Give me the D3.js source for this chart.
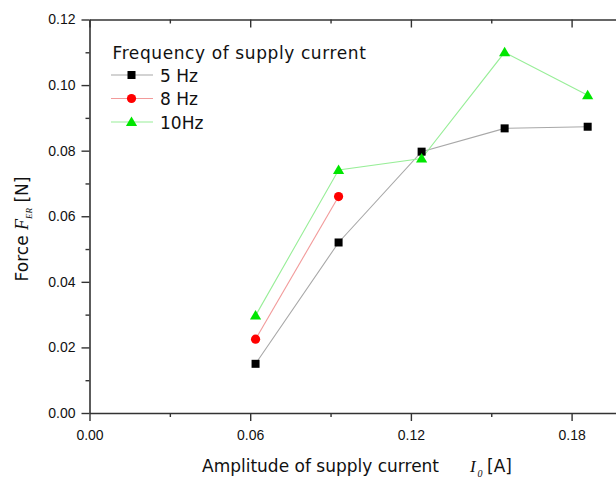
<!DOCTYPE html>
<html>
<head>
<meta charset="utf-8">
<script src="https://cdn.jsdelivr.net/npm/d3@7"></script>
<style>
  html, body { margin: 0; padding: 0; background: #fff; }
  svg { display: block; }
  .tick text { font-family: "Liberation Sans", Arial, sans-serif; font-size: 14px; fill: #111; }
  .lbl { font-family: "DejaVu Sans", "Liberation Sans", sans-serif; fill: #111; }
  .it { font-family: "Liberation Serif", "DejaVu Serif", serif; font-style: italic; }
</style>
</head>
<body>
<svg id="chart" width="616" height="482"></svg>
<script>
// Supply current amplitude I0 [A]
const current = [0.062, 0.093, 0.124, 0.155, 0.186];
// Electrorheological force F_ER [N] per supply frequency
const force5Hz  = [0.015, 0.052, 0.0797, 0.0868, 0.0873];
const force8Hz  = [0.0225, 0.066];
const force10Hz = [0.0297, 0.0741, 0.0776, 0.110, 0.0969];

const xMajor = [0.00, 0.06, 0.12, 0.18];
const xMinor = [0.03, 0.09, 0.15, 0.21];
const yMajor = [0.00, 0.02, 0.04, 0.06, 0.08, 0.10, 0.12];
const yMinor = [0.01, 0.03, 0.05, 0.07, 0.09, 0.11];

const seriesNames = ["5 Hz", "8 Hz", "10Hz"];
const legendTitle = "Frequency of supply current";

const series = [
  { name: seriesNames[0], values: force5Hz,  line: "#a8a8a8", fill: "#000000", shape: "square" },
  { name: seriesNames[1], values: force8Hz,  line: "#f29a9a", fill: "#ff0000", shape: "circle" },
  { name: seriesNames[2], values: force10Hz, line: "#98ee98", fill: "#00e600", shape: "triangle" }
];

const svg = d3.select("#chart");
const plotLeft = 89.5, plotTop = 19.5, plotBottom = 413;
const px006 = 160.7;

const x = d3.scaleLinear().domain([0, 0.24]).range([plotLeft, plotLeft + px006 * 4]);
const y = d3.scaleLinear().domain([0, 0.12]).range([plotBottom, plotTop]);

const axisColor = "#333";

// bottom axis: major ticks with labels, minor ticks without
const gx = svg.append("g").attr("transform", `translate(0,${plotBottom})`);
gx.call(d3.axisBottom(x).tickValues(xMajor).tickFormat(d3.format(".2f")).tickSize(8).tickSizeOuter(0).tickPadding(9));
gx.append("g").call(d3.axisBottom(x).tickValues(xMinor).tickFormat("").tickSize(4).tickSizeOuter(0))
  .select(".domain").remove();

// top axis: inward ticks
const gt = svg.append("g").attr("transform", `translate(0,${plotTop})`);
gt.call(d3.axisBottom(x).tickValues(xMajor).tickFormat("").tickSize(8).tickSizeOuter(0));
gt.append("g").call(d3.axisBottom(x).tickValues(xMinor).tickFormat("").tickSize(4).tickSizeOuter(0))
  .select(".domain").remove();

// left axis
const gy = svg.append("g").attr("transform", `translate(${plotLeft},0)`);
gy.call(d3.axisLeft(y).tickValues(yMajor).tickFormat(d3.format(".2f")).tickSize(8).tickSizeOuter(0).tickPadding(6));
gy.append("g").call(d3.axisLeft(y).tickValues(yMinor).tickFormat("").tickSize(4).tickSizeOuter(0))
  .select(".domain").remove();

svg.selectAll(".domain").attr("stroke", axisColor).attr("stroke-width", 1.6);
svg.selectAll(".tick line").attr("stroke", axisColor).attr("stroke-width", 1.4);

// data lines
const line = d3.line().x((d, i) => x(current[i])).y(d => y(d));
series.forEach(s => {
  svg.append("path").datum(s.values)
    .attr("d", line).attr("fill", "none")
    .attr("stroke", s.line).attr("stroke-width", 1.1);
});

function marker(g, shape, fill) {
  if (shape === "square") {
    g.append("rect").attr("x", -4).attr("y", -4).attr("width", 8).attr("height", 8).attr("fill", fill);
  } else if (shape === "circle") {
    g.append("circle").attr("r", 4.6).attr("fill", fill);
  } else {
    g.append("path").attr("d", "M0,-5.5L5.6,4L-5.6,4Z").attr("fill", fill);
  }
}

series.forEach(s => {
  s.values.forEach((v, i) => {
    const g = svg.append("g").attr("transform", `translate(${x(current[i])},${y(v)})`);
    marker(g, s.shape, s.fill);
  });
});

// legend
const lg = svg.append("g");
lg.append("text").attr("class", "lbl").attr("x", 112.5).attr("y", 59)
  .attr("font-size", 17).attr("letter-spacing", 0.6).text(legendTitle);
const legendRows = [75, 98.5, 122];
series.forEach((s, i) => {
  const cy = legendRows[i];
  lg.append("line").attr("x1", 111).attr("x2", 153).attr("y1", cy).attr("y2", cy)
    .attr("stroke", s.line).attr("stroke-width", 1.1);
  const g = lg.append("g").attr("transform", `translate(131.5,${cy})`);
  marker(g, s.shape, s.fill);
  lg.append("text").attr("class", "lbl").attr("x", 160).attr("y", cy + 6.5)
    .attr("font-size", 17).text(s.name);
});

// x axis title
const xt = svg.append("text").attr("class", "lbl").attr("y", 472).attr("font-size", 17);
xt.append("tspan").attr("x", 202).text("Amplitude of supply current");
xt.append("tspan").attr("class", "it").attr("x", 470).text("I");
xt.append("tspan").attr("class", "it").attr("x", 477.5).attr("dy", 5).attr("font-size", 10).text("0");
xt.append("tspan").attr("x", 487).attr("dy", -5).text("[A]");

// y axis title
const yt = svg.append("text").attr("class", "lbl")
  .attr("transform", "translate(28,229) rotate(-90)")
  .attr("text-anchor", "middle").attr("font-size", 17);
yt.append("tspan").text("Force  ");
yt.append("tspan").attr("class", "it").attr("font-size", 18).text("F");
yt.append("tspan").attr("class", "it").attr("font-size", 9).attr("dy", 4).text("ER");
yt.append("tspan").attr("dy", -4).text(" [N]");
</script>
</body>
</html>
